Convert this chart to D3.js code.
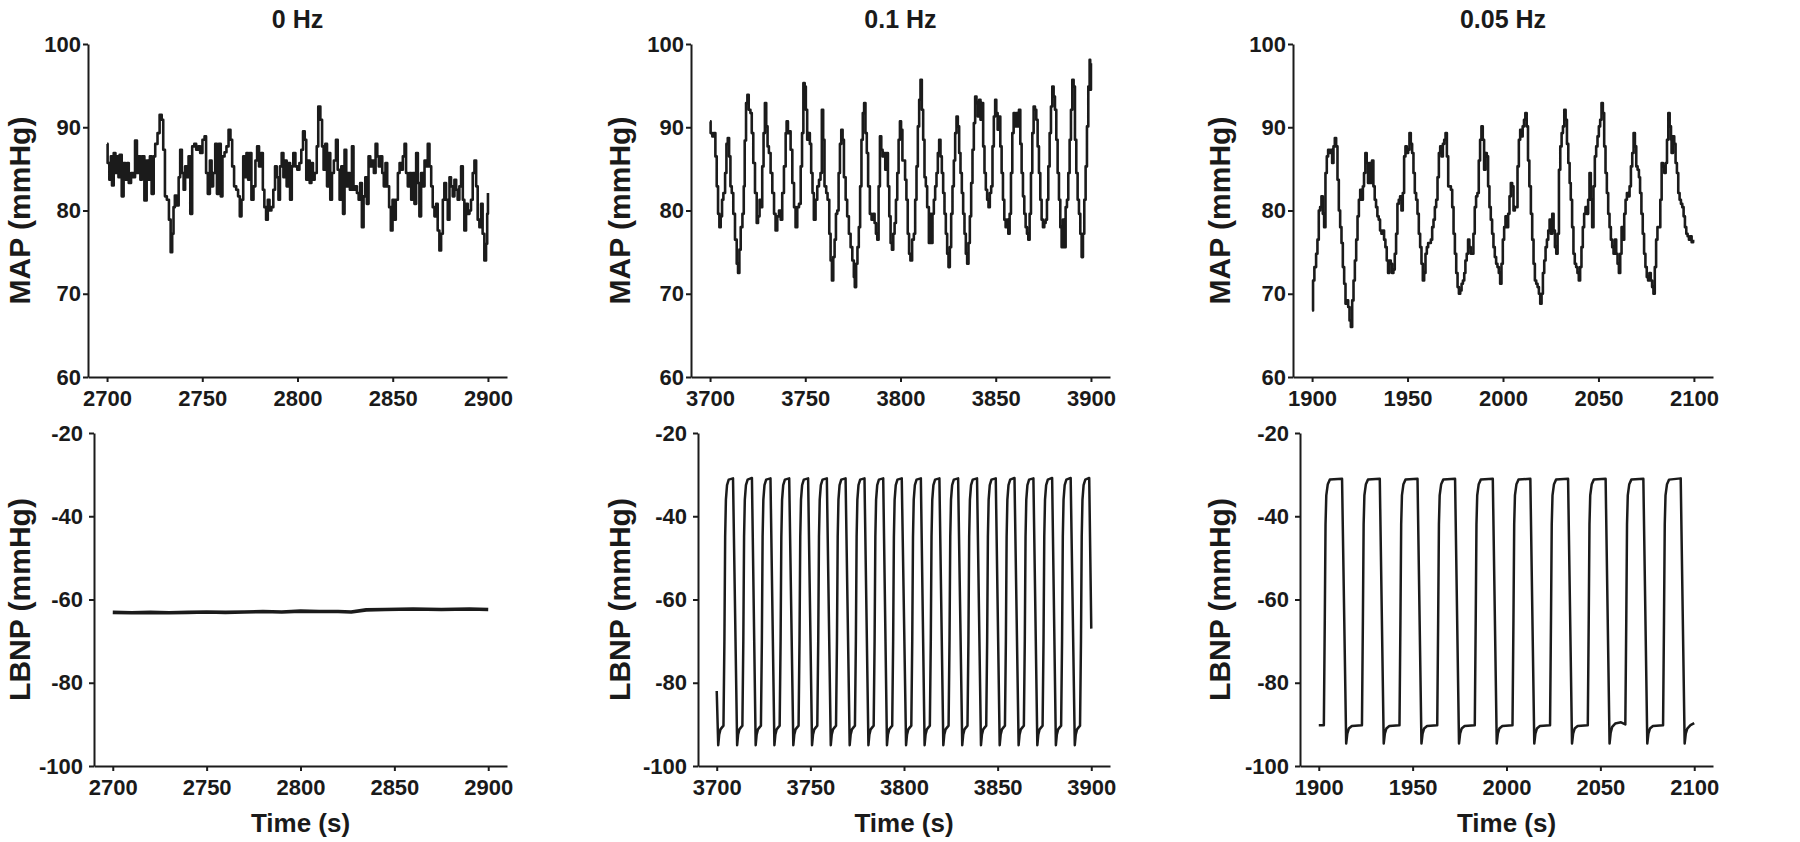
<!DOCTYPE html>
<html>
<head>
<meta charset="utf-8">
<script src="https://d3js.org/d3.v7.min.js"></script>
<style>
body { margin: 0; background: #fff; }
svg text { font-family: "Liberation Sans", Arial, Helvetica, sans-serif; font-weight: bold; fill: #1a1a1a; }
</style>
</head>
<body>
<div id="chart"></div>
<script>
//** data (time in s, pressure in mmHg)

var titles = ["0 Hz", "0.1 Hz", "0.05 Hz"];
var mapTicks = [60, 70, 80, 90, 100];
var lbnpTicks = [-100, -80, -60, -40, -20];
var timeTicks0 = [2700, 2750, 2800, 2850, 2900];
var timeTicks01 = [3700, 3750, 3800, 3850, 3900];
var timeTicks005 = [1900, 1950, 2000, 2050, 2100];

// MAP, 0 Hz
var map0 = [[2700,88],[2700.3,85.7],[2701.2,83.7],[2702,86.5],[2702.6,83],[2703.5,86.9],[2704.4,84.5],[2705,86.5],[2706,84],[2706.6,86.7],
[2707.7,81.7],[2708.7,85.7],[2709.6,83.7],[2710.5,85.7],[2711.4,83.3],[2712.6,84.5],[2713.8,84],[2714.7,88.4],[2715.7,84.5],[2716.6,86.5],
[2717.5,83.7],[2718.3,86.5],[2719.6,81.2],[2720.8,86],[2721.7,83.7],[2722.5,86.5],[2723.4,82],[2724.5,86.5],[2725.3,88],[2726.5,89.3],
[2727.6,91.5],[2728.7,90.9],[2729.5,87.3],[2730.4,81.7],[2731.4,81.3],[2732.5,78.9],[2733.4,75],[2734.2,77.2],[2734.9,80.4],[2735.6,81.8],
[2736.5,80.6],[2737.6,84],[2738.4,87.3],[2739.3,84.5],[2740.2,82.5],[2741,85.3],[2741.9,84],[2742.8,86.5],[2743.7,79.6],[2744.7,87.7],
[2745.8,88],[2746.8,87.3],[2747.9,87.7],[2748.9,86.9],[2750.1,88.5],[2751.2,88.9],[2752,84.5],[2752.9,82],[2754,86],[2754.9,82.9],
[2755.7,84.5],[2756.8,88],[2757.7,82],[2758.7,88],[2759.7,81.7],[2760.6,86.5],[2761.7,87],[2762.7,87.7],[2763.8,89.7],[2764.8,88.5],
[2765.7,85.3],[2766.7,82.9],[2767.8,82.5],[2768.8,81.7],[2769.7,79.3],[2770.6,81.3],[2771.5,86.5],[2772.3,84],[2773.2,86.9],[2774.1,83.7],
[2774.9,86.9],[2775.8,81.3],[2776.9,82.9],[2777.9,86],[2778.8,87.7],[2779.8,85.3],[2780.9,86.9],[2781.8,82.5],[2782.6,80.4],[2783.5,78.9],
[2784.4,81.3],[2785.3,80],[2786.3,80.4],[2787.3,82.5],[2788.2,85.3],[2789.1,84],[2790,81.3],[2790.8,85.3],[2791.7,86.9],[2792.6,84],
[2793.5,86],[2794.3,82.9],[2795.2,85.7],[2796.1,81.3],[2797,85.3],[2797.8,86.9],[2798.9,85.3],[2799.9,84.9],[2801,85.7],[2802,87.3],
[2802.9,89.5],[2803.8,88.5],[2804.6,83.7],[2805.5,86],[2806.4,83.3],[2807.3,85.7],[2808.1,83.7],[2809,84.5],[2810.1,87.7],[2810.9,92.5],
[2812,90.9],[2812.9,87.7],[2813.7,84.9],[2814.6,88],[2815.5,82.9],[2816.4,86.9],[2817.2,81.3],[2818.1,84.5],[2819.1,86],[2820.2,88.5],
[2821.1,84.9],[2822.1,81.3],[2823,85.3],[2823.9,79.6],[2824.7,87.3],[2825.6,82.9],[2826.5,84.5],[2827.5,82.5],[2828.6,87.7],[2829.4,82.5],
[2830.3,82.9],[2831.2,82.1],[2832.1,81.3],[2832.9,83.3],[2833.8,78],[2834.7,81.7],[2835.6,84],[2836.4,80.8],[2837.3,86.5],[2838.2,85.3],
[2839.1,86],[2840.1,84.5],[2841,88],[2841.9,86.5],[2842.7,85.3],[2843.6,86.5],[2844.5,84.5],[2845.3,82.9],[2846.2,85.7],[2847.1,82.9],
[2848.1,80.4],[2849,77.6],[2849.9,81.3],[2850.8,78.9],[2851.6,81.3],[2852.7,84.5],[2853.6,85.7],[2854.4,84.9],[2855.3,86.5],[2856.2,88],
[2857,84.5],[2857.9,82.9],[2858.8,84.5],[2859.7,81.3],[2860.5,84.5],[2861.4,80.8],[2862.3,86.9],[2863.2,83.3],[2864,79.3],[2864.9,84.5],
[2865.8,82.9],[2866.7,86],[2867.5,85.3],[2868.4,88],[2869.3,85.3],[2870.2,82.9],[2871,80.4],[2871.9,79.3],[2872.8,80.8],[2873.6,77.6],
[2874.5,75.2],[2875.4,77.2],[2876.3,81.3],[2877.1,83.3],[2878,81.3],[2878.9,78.9],[2879.8,84],[2880.6,82.9],[2881.5,81.7],[2882.4,83.7],
[2883.3,82.5],[2884.1,81.3],[2885,82.9],[2885.9,85.3],[2886.8,81.3],[2887.6,77.6],[2888.5,80.8],[2889.4,79.6],[2890.3,80],[2891.1,81.3],
[2892,84.5],[2892.9,86],[2893.8,82.9],[2894.6,78.9],[2895.5,78],[2896.4,80.8],[2897.2,77.2],[2898.1,74],[2899,76],[2899.6,79.6],[2900,82.1]];

// MAP, 0.1 Hz
var map01 = [[3700,90.7],[3700.3,89.3],[3701.2,88.9],[3702,89.3],[3702.8,86.5],[3703.5,82.9],[3704.2,79.6],[3704.9,78],[3705.6,79.3],[3706.3,81.3],
[3707,82.1],[3707.9,84.5],[3708.6,88],[3709.3,88.7],[3710,86.5],[3710.7,82.9],[3711.4,82.1],[3712.2,79.6],[3713.1,76.5],[3714,73.6],
[3714.7,72.5],[3715.4,75.3],[3716.1,78],[3717,79.6],[3717.7,82.9],[3718.2,88.4],[3718.9,92.9],[3719.6,93.9],[3720.3,92.1],[3721.2,91.7],
[3721.9,89.3],[3722.7,85.7],[3723.6,82.1],[3724.5,78.5],[3725.2,79.3],[3726,81.3],[3726.7,80.4],[3727.4,85.3],[3728.1,89.3],[3728.8,92.9],
[3729.5,90.1],[3730.2,87.7],[3730.9,86.9],[3731.8,84.5],[3732.7,82.1],[3733.6,79.6],[3734.4,77.6],[3735.3,79.3],[3736.2,80],[3737.1,78.9],
[3737.9,82.1],[3738.8,85.3],[3739.7,89.3],[3740.2,90.7],[3740.9,89.3],[3741.6,89.5],[3742.3,87.3],[3743.2,83.3],[3744.1,80.4],[3744.9,78],
[3745.8,80.4],[3746.7,80.8],[3747.6,85.3],[3748.3,89.3],[3749,95.3],[3749.7,94.9],[3750.3,92.1],[3751,88.5],[3751.7,89.3],[3752.4,88],
[3753.1,84.5],[3753.8,82.1],[3754.5,78.9],[3755.4,81.3],[3756.3,82.9],[3757.2,83.7],[3758,84.5],[3758.7,92.1],[3759.4,88.5],[3760.1,82.9],
[3761,82.1],[3761.7,81.3],[3762.6,77.2],[3763.3,74],[3764,71.6],[3764.7,74.4],[3765.4,76.5],[3766.1,79.6],[3766.8,80],[3767.5,84.5],
[3768.2,88],[3768.9,89.7],[3769.6,88.5],[3770.3,84],[3771.2,81.3],[3772,79.3],[3772.9,77.2],[3773.8,75.6],[3774.7,74],[3775.5,72],
[3776,70.8],[3776.7,73.6],[3777.4,75.6],[3778.1,78],[3778.8,82.9],[3779.5,88.5],[3780.2,91.7],[3780.9,92.9],[3781.6,89.3],[3782.3,86.9],
[3783,82.9],[3783.9,79.6],[3784.8,78.9],[3785.7,79.6],[3786.4,78.5],[3787.1,77.2],[3787.8,76.5],[3788.5,82.9],[3789.2,88.9],[3789.9,87.3],
[3790.6,86.5],[3791.3,86.9],[3792,84.9],[3792.7,86.9],[3793.4,82.9],[3794.1,79.3],[3794.8,76.1],[3795.5,75.3],[3796.2,77.2],[3796.9,78.5],
[3797.6,81.3],[3798.3,84.5],[3799,88.5],[3799.7,90.7],[3800.3,89.7],[3801,86],[3801.7,86],[3802.4,83.7],[3803.1,81.3],[3803.8,77.2],
[3804.5,74.8],[3805.2,74],[3806.1,76.5],[3807,77.2],[3807.7,81.3],[3808.4,85.3],[3809.1,90.1],[3809.8,93.3],[3810.5,95.7],[3811.2,92.1],
[3811.9,88.5],[3812.6,84],[3813.3,82.9],[3814,80.4],[3814.9,76.1],[3815.4,79.6],[3816.1,76.1],[3816.8,79.6],[3817.5,81.3],[3818.2,82.9],
[3818.9,84.5],[3819.6,86.9],[3820.3,88.5],[3821,86.5],[3821.7,84.5],[3822.4,82.1],[3823.1,79.6],[3823.8,77.2],[3824.5,74.8],[3825.2,73.2],
[3825.9,75.6],[3826.6,79.6],[3827.3,82.9],[3828,86],[3828.7,89.3],[3829.4,91.3],[3830.1,90.1],[3830.8,86.9],[3831.5,84.5],[3832.2,82.1],
[3832.9,79.6],[3833.6,77.2],[3834.3,74.8],[3835,73.6],[3835.7,76.1],[3836.4,79.3],[3837.1,83.3],[3837.8,87.3],[3838.5,90.5],[3839.2,93.7],
[3839.9,92.9],[3840.6,91.3],[3841.3,93.3],[3842,90.9],[3842.7,92.9],[3843.4,87.7],[3844.1,84.5],[3844.8,82.5],[3845.5,81.3],[3846.2,80.4],
[3846.9,82.1],[3847.6,82.9],[3848.3,87.7],[3849,91.3],[3849.7,93.3],[3850.3,91.7],[3851,89.7],[3851.7,91.3],[3852.4,87.7],[3853.1,84.5],
[3853.8,81.3],[3854.5,78.9],[3855.2,78],[3855.9,78.9],[3856.6,77.2],[3857.3,79.6],[3858,84.5],[3858.7,89.3],[3859.4,91.7],[3860.1,90.1],
[3860.8,91.7],[3861.5,90.1],[3862.2,92.1],[3862.9,88],[3863.6,84.5],[3864.3,81.7],[3865,79.6],[3865.7,78],[3866.4,77.2],[3867.1,76.5],
[3867.8,79.6],[3868.5,84.5],[3869.2,89.3],[3869.9,92.5],[3870.6,92.1],[3871.3,90.9],[3872,87.7],[3872.7,84.5],[3873.4,81.3],[3874.1,78.9],
[3874.8,78],[3875.5,78.5],[3876.2,78.9],[3876.9,81.3],[3877.6,85.3],[3878.3,89.3],[3879,92.5],[3879.7,94.9],[3880.4,93.7],[3881.1,92.1],
[3881.8,88.5],[3882.5,84.5],[3883.2,81.3],[3883.9,78],[3884.6,75.6],[3885.3,78.9],[3886,75.6],[3886.7,80.4],[3887.4,81.3],[3888.1,84.5],
[3888.8,88.5],[3889.5,92.1],[3890.2,95.7],[3890.9,94.9],[3891.6,88.5],[3892.3,84.5],[3893,81.3],[3893.7,79.6],[3894.4,77.2],[3895.1,74.4],
[3895.8,77.2],[3896.5,81.3],[3897.2,85.3],[3897.9,90.1],[3898.6,94.9],[3899.3,98.1],[3899.6,94.5],[3900,97.7]];

// MAP, 0.05 Hz
var map005 = [[1900,68],[1900.5,71.6],[1901.2,73.2],[1902.1,74.8],[1902.8,76.5],[1903.5,80],[1904.2,80.4],[1904.9,81.7],[1905.6,79.6],[1906.3,78],
[1907,84.5],[1907.7,86.5],[1908.4,87.3],[1909.1,86.9],[1909.8,87.3],[1910.5,85.7],[1911.2,87.7],[1911.9,88.7],[1912.6,87.7],[1913.3,83.7],
[1914,80],[1914.7,78],[1915.4,76.1],[1916.1,73.2],[1916.8,71.2],[1917.5,68.8],[1918.2,69.2],[1918.9,68.4],[1919.6,66.8],[1920.3,66],
[1921,69.2],[1921.7,71.6],[1922.4,74],[1923.1,76.5],[1923.8,79.3],[1924.5,81.3],[1925.2,82.5],[1925.9,81.3],[1926.6,82.9],[1927.2,84.5],
[1927.9,86.9],[1928.6,85.7],[1929.3,83.3],[1930,85.7],[1930.7,83.3],[1931.4,86],[1932.1,82.9],[1932.8,81.3],[1933.5,80.4],[1934.2,79.3],
[1934.9,78.9],[1935.6,77.6],[1936.3,77.2],[1937,77.6],[1937.7,76.5],[1938.4,75.6],[1939.1,74],[1939.8,72.5],[1940.5,74],[1941.2,73.6],
[1941.9,72.5],[1942.6,72.9],[1943.3,74.8],[1944,77.2],[1944.7,80.8],[1945.4,81.3],[1946.1,81.7],[1946.8,80],[1947.5,82.1],[1948.2,86.5],
[1948.9,87.7],[1949.6,86.9],[1950.3,87.3],[1951,89.3],[1951.7,88],[1952.4,86.9],[1953.1,84.5],[1953.8,82.1],[1954.5,81.3],[1955.2,79.6],
[1955.9,77.2],[1956.6,75.6],[1957.3,73.6],[1958,71.6],[1958.7,72.5],[1959.4,74.8],[1960.1,75.6],[1960.8,76.1],[1961.5,76.1],[1962.2,76.5],
[1962.9,78],[1963.6,78.9],[1964.3,80.4],[1965,81.3],[1965.7,84],[1966.4,86.9],[1967.1,87.7],[1967.8,86.5],[1968.5,88],[1969.2,88.5],
[1969.9,89.3],[1970.6,86.5],[1971.3,82.9],[1972,82.9],[1972.7,82.5],[1973.4,80.4],[1974.1,77.2],[1974.8,74.8],[1975.5,72.5],[1976.2,70.8],
[1976.9,70],[1977.6,70.4],[1978.3,71.2],[1979,71.6],[1979.7,72.5],[1980.3,74],[1981,74.8],[1981.7,76.5],[1982.4,75.6],[1983.1,74.8],
[1983.8,74.8],[1984.5,77.2],[1985.2,80.4],[1985.9,81.7],[1986.6,82.1],[1987.3,86],[1988,88.5],[1988.7,90.1],[1989.4,88.5],[1990.1,84.9],
[1990.8,86.9],[1991.5,86.5],[1992.2,82.9],[1992.9,80.4],[1993.6,78.9],[1994.3,77.2],[1995,75.6],[1995.7,74.4],[1996.4,73.6],[1997.1,73.2],
[1997.8,72.5],[1998.5,71.2],[1999.2,73.6],[1999.9,76.5],[2000.6,78],[2001.3,79.3],[2002,78],[2002.7,79.6],[2003.4,81.7],[2004.1,83.3],
[2004.8,82.9],[2005.5,80],[2006.2,80.4],[2006.9,80.4],[2007.6,85.3],[2008.3,88.5],[2009,89.7],[2009.7,88.9],[2010.3,90.1],[2011,90.9],
[2011.7,91.7],[2012.4,90.1],[2013.1,86],[2013.8,82.9],[2014.6,79.6],[2015.3,76.5],[2016,73.6],[2016.7,71.6],[2017.4,71.2],[2018.1,70.8],
[2018.8,70],[2019.5,68.8],[2020.2,70],[2020.9,72.5],[2021.6,74],[2022.3,75.6],[2023,76.5],[2023.7,77.6],[2024.4,78.9],[2025.1,77.2],
[2025.8,79.6],[2026.5,77.6],[2027.2,75.6],[2027.9,74.8],[2028.6,77.2],[2029.3,84.9],[2030,87.7],[2030.7,89.3],[2031.4,90.1],[2032.1,92.1],
[2032.8,90.9],[2033.5,88],[2034.2,85.7],[2034.9,83.3],[2035.5,81.3],[2036.2,78],[2036.9,74.8],[2037.6,73.6],[2038.3,73.2],[2039,72.5],
[2039.7,71.6],[2040.4,73.2],[2041.1,75.6],[2041.8,78],[2042.5,79.6],[2043.2,80.4],[2043.9,79.6],[2044.6,81.3],[2045.3,84.5],[2046,81.3],
[2046.7,78],[2047.4,82.9],[2048.1,86.5],[2048.8,87.7],[2049.5,88.9],[2050.2,90.1],[2050.9,90.9],[2051.6,92.9],[2052.3,91.7],[2053,87.7],
[2053.7,84.5],[2054.4,82.1],[2055.1,79.6],[2055.8,78],[2056.5,76.5],[2057.2,75.6],[2057.9,74.8],[2058.6,76.5],[2059.3,74.8],[2060,73.6],
[2060.7,72.5],[2061.4,74.8],[2062.1,78],[2062.8,76.5],[2063.5,79.6],[2064.2,81.3],[2064.9,82.1],[2065.6,81.7],[2066.3,82.9],[2067,85.3],
[2067.7,86.9],[2068.4,89.3],[2069.1,87.7],[2069.8,85.3],[2070.5,84.9],[2071.2,84],[2071.8,82.1],[2072.5,79.6],[2073.2,77.2],[2073.9,74.8],
[2074.6,73.2],[2075.3,72],[2076,71.6],[2076.7,72.5],[2077.4,71.6],[2078.1,70.8],[2078.8,70],[2079.5,73.2],[2080.2,76.5],[2080.9,78],
[2081.7,78],[2082.4,81.3],[2083.1,85.7],[2083.8,85.3],[2084.5,84.5],[2085.2,85.7],[2085.9,88.5],[2086.6,91.7],[2087.3,90.1],[2088,88.5],
[2088.3,86.9],[2089,88.9],[2089.7,88],[2090.4,85.7],[2091.1,84.5],[2091.8,82.1],[2092.5,81.3],[2093.2,80.8],[2093.9,80.4],[2094.6,79.3],
[2095.3,78],[2096,77.2],[2096.7,76.9],[2097.4,76.5],[2098.1,76.9],[2098.8,76.2],[2099.6,76.5]];

// LBNP, 0 Hz (held steady)
var lbnp0 = [[2700,-63.1],[2710,-63.2],[2720,-63.1],[2730,-63.2],[2740,-63.1],[2750,-63.0],[2760,-63.1],[2770,-63.0],[2780,-62.9],[2790,-63.0],
[2800,-62.8],[2810,-62.9],[2820,-62.9],[2827,-63.0],[2835,-62.5],[2845,-62.4],[2860,-62.3],[2875,-62.4],[2890,-62.3],[2900,-62.4]];

// LBNP, 0.1 Hz (one row per cycle)
var lbnp01 = [[3700,-82],
[3700.8,-95],[3701.3,-92.5],[3702.0,-91.2],[3703.6,-90.3],[3704.1,-70],[3704.5,-45],[3704.9,-36],[3705.5,-32.5],[3706.4,-31.2],[3708.7,-30.9],
[3710.9,-95],[3711.4,-92.5],[3712.1,-91.2],[3713.7,-90.3],[3714.2,-70],[3714.6,-45],[3715.0,-36],[3715.6,-32.5],[3716.5,-31.2],[3718.8,-30.8],
[3720.8,-95],[3721.3,-92.5],[3722.0,-91.2],[3723.6,-90.3],[3724.1,-70],[3724.5,-45],[3724.9,-36],[3725.5,-32.5],[3726.4,-31.2],[3728.7,-30.9],
[3730.8,-95],[3731.3,-92.5],[3732.0,-91.2],[3733.6,-90.3],[3734.1,-70],[3734.5,-45],[3734.9,-36],[3735.5,-32.5],[3736.4,-31.2],[3738.7,-30.9],
[3740.9,-95],[3741.4,-92.5],[3742.1,-91.2],[3743.7,-90.3],[3744.2,-70],[3744.6,-45],[3745.0,-36],[3745.6,-32.5],[3746.5,-31.2],[3748.8,-30.9],
[3750.9,-95],[3751.4,-92.5],[3752.1,-91.2],[3753.7,-90.3],[3754.2,-70],[3754.6,-45],[3755.0,-36],[3755.6,-32.5],[3756.5,-31.2],[3758.8,-30.9],
[3760.9,-95],[3761.4,-92.5],[3762.1,-91.2],[3763.7,-90.3],[3764.2,-70],[3764.6,-45],[3765.0,-36],[3765.6,-32.5],[3766.5,-31.2],[3768.8,-30.9],
[3771.0,-95],[3771.5,-92.5],[3772.2,-91.2],[3773.8,-90.3],[3774.3,-70],[3774.7,-45],[3775.1,-36],[3775.7,-32.5],[3776.6,-31.2],[3778.9,-30.9],
[3781.0,-95],[3781.5,-92.5],[3782.2,-91.2],[3783.8,-90.3],[3784.3,-70],[3784.7,-45],[3785.1,-36],[3785.7,-32.5],[3786.6,-31.2],[3788.9,-30.9],
[3790.9,-95],[3791.4,-92.5],[3792.1,-91.2],[3793.7,-90.3],[3794.2,-70],[3794.6,-45],[3795.0,-36],[3795.6,-32.5],[3796.5,-31.2],[3798.8,-30.9],
[3801.1,-95],[3801.6,-92.5],[3802.3,-91.2],[3803.9,-90.3],[3804.4,-70],[3804.8,-45],[3805.2,-36],[3805.8,-32.5],[3806.7,-31.2],[3809.0,-30.9],
[3811.0,-95],[3811.5,-92.5],[3812.2,-91.2],[3813.8,-90.3],[3814.3,-70],[3814.7,-45],[3815.1,-36],[3815.7,-32.5],[3816.6,-31.2],[3818.9,-30.9],
[3821.0,-95],[3821.5,-92.5],[3822.2,-91.2],[3823.8,-90.3],[3824.3,-70],[3824.7,-45],[3825.1,-36],[3825.7,-32.5],[3826.6,-31.2],[3828.9,-30.9],
[3831.1,-95],[3831.6,-92.5],[3832.3,-91.2],[3833.9,-90.3],[3834.4,-70],[3834.8,-45],[3835.2,-36],[3835.8,-32.5],[3836.7,-31.2],[3839.0,-30.9],
[3841.1,-95],[3841.6,-92.5],[3842.3,-91.2],[3843.9,-90.3],[3844.4,-70],[3844.8,-45],[3845.2,-36],[3845.8,-32.5],[3846.7,-31.2],[3849.0,-30.9],
[3851.1,-95],[3851.6,-92.5],[3852.3,-91.2],[3853.9,-90.3],[3854.4,-70],[3854.8,-45],[3855.2,-36],[3855.8,-32.5],[3856.7,-31.2],[3859.0,-30.8],
[3861.2,-95],[3861.7,-92.5],[3862.4,-91.2],[3864.0,-90.3],[3864.5,-70],[3864.9,-45],[3865.3,-36],[3865.9,-32.5],[3866.8,-31.2],[3869.1,-30.9],
[3871.2,-95],[3871.7,-92.5],[3872.4,-91.2],[3874.0,-90.3],[3874.5,-70],[3874.9,-45],[3875.3,-36],[3875.9,-32.5],[3876.8,-31.2],[3879.1,-30.8],
[3881.1,-95],[3881.6,-92.5],[3882.3,-91.2],[3883.9,-90.3],[3884.4,-70],[3884.8,-45],[3885.2,-36],[3885.8,-32.5],[3886.7,-31.2],[3889.0,-30.8],
[3891.2,-95],[3891.7,-92.5],[3892.4,-91.2],[3894.0,-90.3],[3894.5,-70],[3894.9,-45],[3895.3,-36],[3895.9,-32.5],[3896.8,-31.2],[3898.9,-30.8],
[3900,-67]];

// LBNP, 0.05 Hz (one row per cycle)
var lbnp005 = [[1900,-90.2],[1902.7,-90.2],[1903.2,-65],[1903.6,-42],[1904.0,-35],[1904.8,-32.3],[1905.9,-31.2],[1912.4,-31],
[1914.6,-94.6],[1915.2,-92.2],[1916.0,-91],[1917.6,-90.4],[1923.0,-90.2],[1923.5,-65],[1923.9,-42],[1924.3,-35],[1925.1,-32.3],[1926.2,-31.2],[1932.5,-31],
[1934.6,-94.6],[1935.2,-92.2],[1936.0,-91],[1937.6,-90.4],[1943.0,-90.2],[1943.5,-65],[1943.9,-42],[1944.3,-35],[1945.1,-32.3],[1946.2,-31.2],[1952.6,-31],
[1954.7,-94.6],[1955.3,-92.2],[1956.1,-91],[1957.7,-90.4],[1963.1,-90.2],[1963.6,-65],[1964.0,-42],[1964.4,-35],[1965.2,-32.3],[1966.3,-31.2],[1972.6,-31],
[1974.7,-94.6],[1975.3,-92.2],[1976.1,-91],[1977.7,-90.4],[1983.1,-90.2],[1983.6,-65],[1984.0,-42],[1984.4,-35],[1985.2,-32.3],[1986.3,-31.2],[1992.7,-31],
[1994.8,-94.6],[1995.4,-92.2],[1996.2,-91],[1997.8,-90.4],[2003.2,-90.2],[2003.7,-65],[2004.1,-42],[2004.5,-35],[2005.3,-32.3],[2006.4,-31.2],[2012.7,-31],
[2014.8,-94.6],[2015.4,-92.2],[2016.2,-91],[2017.8,-90.4],[2023.2,-90.2],[2023.7,-65],[2024.1,-42],[2024.5,-35],[2025.3,-32.3],[2026.4,-31.2],[2032.8,-31],
[2034.9,-94.6],[2035.5,-92.2],[2036.3,-91],[2037.9,-90.4],[2043.3,-90.2],[2043.8,-65],[2044.2,-42],[2044.6,-35],[2045.4,-32.3],[2046.5,-31.2],[2052.8,-31],
[2054.9,-94.6],[2055.5,-92],[2056.3,-90.6],[2057.9,-89.8],[2061.0,-89.5],[2063.3,-90.0],[2063.8,-65],[2064.2,-42],[2064.6,-35],[2065.4,-32.3],[2066.5,-31.2],[2072.9,-31],
[2075.0,-94.6],[2075.6,-92.2],[2076.4,-91],[2078.0,-90.4],[2083.4,-90.2],[2083.9,-65],[2084.3,-42],[2084.7,-35],[2085.5,-32.3],[2086.6,-31.2],[2092.8,-30.9],
[2094.9,-94.6],[2095.5,-92.2],[2096.3,-91],[2098.0,-90.2],[2100,-89.7]];

//** layout: three columns, MAP on top, LBNP below
var svgWidth = 1800;
var svgHeight = 842;

var rightEdge = [507, 1110, 1713];
var leftTop = [88, 691, 1293];
var leftBottom = [94, 698, 1300];
var rowTop = { top: 44, bottom: 377 };
var rowBottom = { top: 433, bottom: 766 };

var ink = "#1b1b1b";

var svg = d3.select("#chart").append("svg")
    .attr("width", svgWidth)
    .attr("height", svgHeight);

// d3 puts its own font on the axis group, so take it off and restyle
function styleAxis(g) {
    g.attr("font-family", null).attr("font-size", null);
    g.select(".domain").attr("stroke", ink).attr("stroke-width", 2);
    g.selectAll(".tick line").attr("stroke", ink).attr("stroke-width", 2);
    g.selectAll(".tick text")
        .style("font-family", "'Liberation Sans', Arial, sans-serif")
        .style("font-weight", "bold")
        .style("font-size", "22px")
        .attr("fill", ink);
}

// plain hyphen for negatives, like the original
var plainNumber = d => String(d);

function drawPanel(p) {
    var xScale = d3.scaleLinear()
        .domain([p.xTicks[0] - 10, p.xTicks[p.xTicks.length - 1] + 10])
        .range([p.left, p.right]);
    var yScale = d3.scaleLinear()
        .domain([p.yTicks[0], p.yTicks[p.yTicks.length - 1]])
        .range([p.bottom, p.top]);

    // x axis
    var gx = svg.append("g")
        .attr("transform", `translate(0, ${p.bottom})`)
        .call(d3.axisBottom(xScale).tickValues(p.xTicks).tickFormat(plainNumber)
            .tickSize(5).tickSizeOuter(0).tickPadding(8));
    styleAxis(gx);

    // y axis
    var gy = svg.append("g")
        .attr("transform", `translate(${p.left}, 0)`)
        .call(d3.axisLeft(yScale).tickValues(p.yTicks).tickFormat(plainNumber)
            .tickSize(5).tickSizeOuter(0).tickPadding(p.yPad));
    styleAxis(gy);

    // trace
    var line = d3.line()
        .x(d => xScale(d[0]))
        .y(d => yScale(d[1]))
        .curve(p.curve);

    svg.append("path")
        .datum(p.data)
        .attr("fill", "none")
        .attr("stroke", ink)
        .attr("stroke-width", p.width)
        .attr("stroke-linejoin", "round")
        .attr("d", line);

    // y label
    svg.append("text")
        .attr("transform", `translate(${p.labelX}, ${(p.top + p.bottom) / 2}) rotate(-90)`)
        .attr("text-anchor", "middle")
        .attr("dominant-baseline", "central")
        .style("font-size", "30px")
        .text(p.yLabel);

    var midX = (p.left + p.right) / 2;
    if (p.title) {
        svg.append("text")
            .attr("x", midX)
            .attr("y", 28)
            .attr("text-anchor", "middle")
            .style("font-size", "25px")
            .text(p.title);
    }
    if (p.xLabel) {
        svg.append("text")
            .attr("x", midX)
            .attr("y", 832)
            .attr("text-anchor", "middle")
            .style("font-size", "26px")
            .text(p.xLabel);
    }
}

var mapSeries = [map0, map01, map005];
var lbnpSeries = [lbnp0, lbnp01, lbnp005];
var timeTicks = [timeTicks0, timeTicks01, timeTicks005];

for (var i = 0; i < 3; i++) {
    drawPanel({
        left: leftTop[i], right: rightEdge[i], top: rowTop.top, bottom: rowTop.bottom,
        xTicks: timeTicks[i], yTicks: mapTicks, yPad: 2,
        data: mapSeries[i], curve: d3.curveStepAfter, width: 2.6,
        labelX: i * 600 + 19, yLabel: "MAP (mmHg)", title: titles[i]
    });
    drawPanel({
        left: leftBottom[i], right: rightEdge[i], top: rowBottom.top, bottom: rowBottom.bottom,
        xTicks: timeTicks[i], yTicks: lbnpTicks, yPad: 6,
        data: lbnpSeries[i], curve: d3.curveLinear, width: i === 0 ? 3.6 : 2.5,
        labelX: i * 600 + 19, yLabel: "LBNP (mmHg)", xLabel: "Time (s)"
    });
}
</script>
</body>
</html>
